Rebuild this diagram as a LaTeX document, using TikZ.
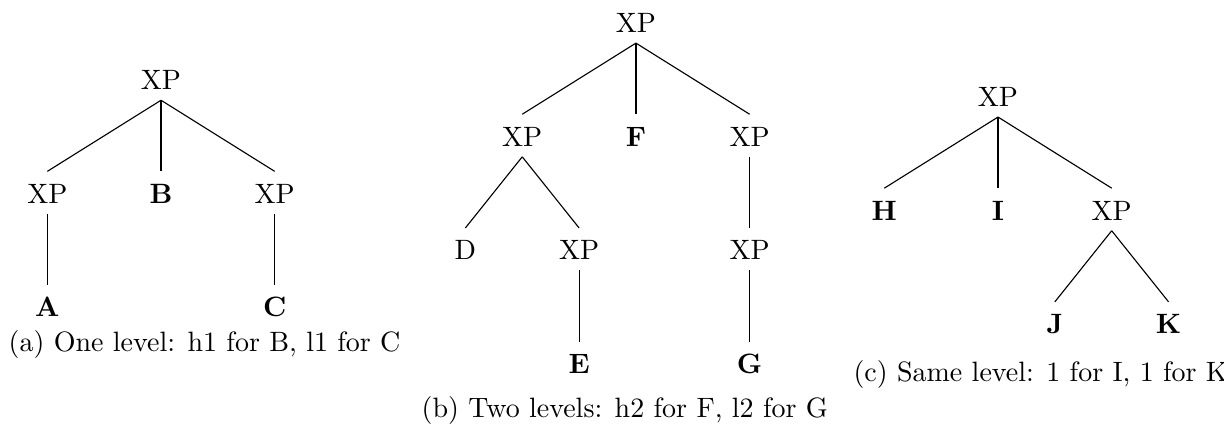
\documentclass[tikz,border=0pt]{standalone}
\usetikzlibrary{positioning}

\begin{document}
\begin{tikzpicture}[
  node distance=40.6pt and 40.6pt, on grid,
  cat/.style={inner sep=3.4pt, text height=7.8pt, text depth=0.2pt},
  head/.style={cat, font=\bfseries},
  branch/.style={line width=0.4pt},
  caption/.style={anchor=base west, inner sep=0pt}
]
\useasboundingbox (0,0) rectangle (437.1pt,-151.8pt);

% (a) one level
\node[cat] (rootA) at (57.5pt,-28.2pt) {XP};
\node[cat, below left=of rootA] (xpAl) {XP};
\node[head, below=of rootA] (headB) {B};
\node[cat, below right=of rootA] (xpAr) {XP};
\node[head, below=of xpAl] (headA) {A};
\node[head, below=of xpAr] (headC) {C};
\draw[branch] (rootA.south) -- (xpAl.north);
\draw[branch] (rootA.south) -- (headB.north);
\draw[branch] (rootA.south) -- (xpAr.north);
\draw[branch] (xpAl.south) -- (headA.north);
\draw[branch] (xpAr.south) -- (headC.north);
\node[caption] (capA) at (2.9pt,-125.7pt) {(a) One level: h1 for B, l1 for C};

% (b) two levels
\node[cat] (rootB) at (227.1pt,-7.8pt) {XP};
\node[cat, below left=of rootB] (xpBl) {XP};
\node[head, below=of rootB] (headF) {F};
\node[cat, below right=of rootB] (xpBr) {XP};
\node[cat, below left=40.6pt and 20.3pt of xpBl] (catD) {D};
\node[cat, below right=40.6pt and 20.3pt of xpBl] (xpBll) {XP};
\node[cat, below=of xpBr] (xpBrr) {XP};
\node[head, below=of xpBll] (headE) {E};
\node[head, below=of xpBrr] (headG) {G};
\draw[branch] (rootB.south) -- (xpBl.north);
\draw[branch] (rootB.south) -- (headF.north);
\draw[branch] (rootB.south) -- (xpBr.north);
\draw[branch] (xpBl.south) -- (catD.north);
\draw[branch] (xpBl.south) -- (xpBll.north);
\draw[branch] (xpBr.south) -- (xpBrr.north);
\draw[branch] (xpBll.south) -- (headE.north);
\draw[branch] (xpBrr.south) -- (headG.north);
\node[caption] (capB) at (150.4pt,-149.2pt) {(b) Two levels: h2 for F, l2 for G};

% (c) same level
\node[cat] (rootC) at (356.4pt,-34.2pt) {XP};
\node[head, below left=of rootC] (headH) {H};
\node[head, below=of rootC] (headI) {I};
\node[cat, below right=of rootC] (xpCr) {XP};
\node[head, below left=40.6pt and 20.3pt of xpCr] (headJ) {J};
\node[head, below right=40.6pt and 20.3pt of xpCr] (headK) {K};
\draw[branch] (rootC.south) -- (headH.north);
\draw[branch] (rootC.south) -- (headI.north);
\draw[branch] (rootC.south) -- (xpCr.north);
\draw[branch] (xpCr.south) -- (headJ.north);
\draw[branch] (xpCr.south) -- (headK.north);
\node[caption] (capC) at (304.6pt,-136.4pt) {(c) Same level: 1 for I, 1 for K};
\end{tikzpicture}
\end{document}
